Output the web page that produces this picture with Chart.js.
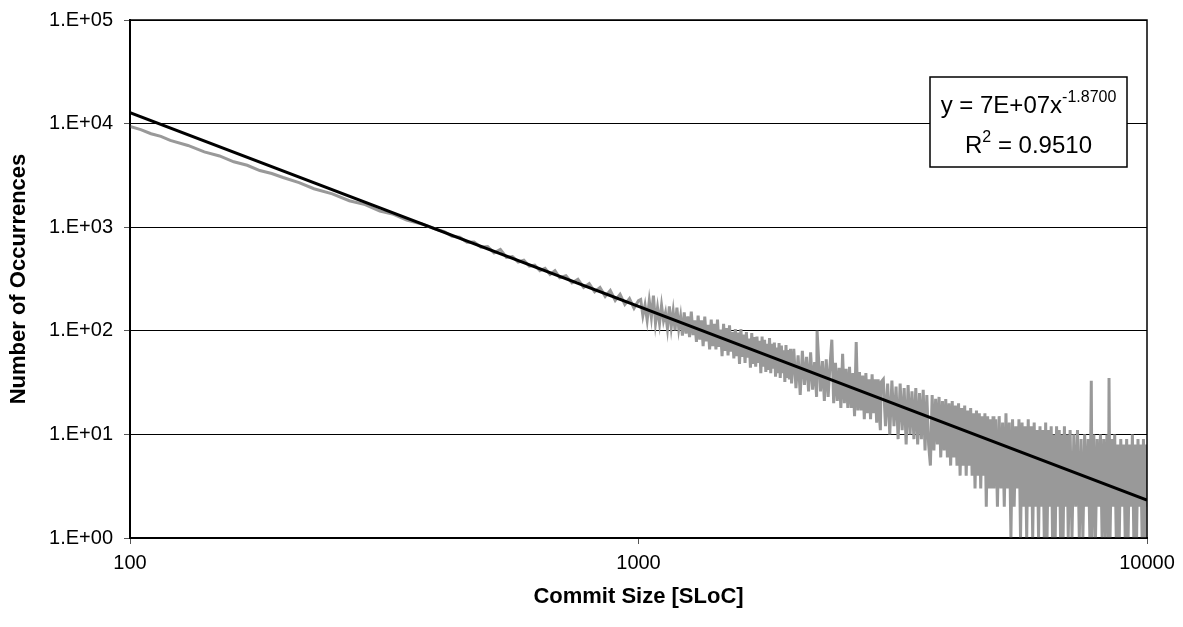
<!DOCTYPE html>
<html>
<head>
<meta charset="utf-8">
<script src="https://cdn.jsdelivr.net/npm/chart.js@4.4.0/dist/chart.umd.min.js"></script>
<style>
  html, body { margin: 0; padding: 0; background: #fff; }
  #chart { display: block; }
</style>
</head>
<body>
<canvas id="chart" width="1183" height="627"></canvas>
<script>
// commit size (SLoC) and how often it occurs
const commitSize = [
  100, 105, 110, 115, 120, 130, 140, 150, 160, 170, 180, 190, 200, 215, 230, 250, 270, 290, 310, 330, 350, 375,
  400, 415, 430, 445, 460, 475, 490, 505, 520, 535, 550, 565, 580, 595, 610, 625, 640, 655, 670, 685,
  700, 720, 740, 760, 780, 800, 820, 840, 860, 880, 900, 920, 940, 960, 980, 1000,
  1010, 1020, 1030, 1040, 1050, 1060, 1070, 1080, 1090, 1100, 1110, 1120, 1130, 1140, 1150, 1160, 1170, 1180, 1190, 1200,
  1210, 1220, 1230, 1240, 1250, 1260, 1270, 1280, 1290, 1300, 1310, 1320, 1330, 1340, 1350, 1360, 1370, 1380, 1390, 1400,
  1410, 1420, 1430, 1440, 1450, 1460, 1470, 1480, 1490, 1500, 1510, 1520, 1530, 1540, 1550, 1560, 1570, 1580, 1590, 1600,
  1610, 1620, 1630, 1640, 1650, 1660, 1670, 1680, 1690, 1700, 1710, 1720, 1730, 1740, 1750, 1760, 1770, 1780, 1790, 1800,
  1810, 1820, 1830, 1840, 1850, 1860, 1870, 1880, 1890, 1900, 1910, 1920, 1930, 1940, 1950, 1960, 1970, 1980, 1990, 2000,
  2020, 2040, 2060, 2080, 2100, 2120, 2140, 2160, 2180, 2200, 2220, 2240, 2245, 2260, 2280, 2300, 2320, 2340, 2360, 2380,
  2400, 2420, 2440, 2460, 2480, 2500, 2520, 2540, 2560, 2580, 2600, 2620, 2640, 2660, 2680, 2700, 2720, 2740, 2760, 2780,
  2800, 2820, 2840, 2860, 2880, 2900, 2920, 2940, 2960, 2980, 2990, 3000,
  3030, 3060, 3090, 3120, 3150, 3180, 3210, 3240, 3270, 3300, 3330, 3360, 3390, 3420, 3450, 3480, 3510, 3540, 3570, 3600,
  3630, 3660, 3690, 3720, 3750, 3780, 3810, 3840, 3870, 3900, 3930, 3960, 3990, 4020, 4050, 4080, 4110, 4140, 4170, 4200,
  4230, 4260, 4290, 4320, 4350, 4380, 4410, 4440, 4470, 4500, 4530, 4560, 4590, 4620, 4650, 4680, 4710, 4740, 4770, 4800,
  4830, 4860, 4890, 4920, 4950, 4980,
  5000, 5040, 5080, 5120, 5160, 5200, 5240, 5280, 5320, 5360, 5400, 5440, 5480, 5520, 5560, 5600, 5640, 5680, 5720, 5760,
  5800, 5840, 5880, 5920, 5960, 6000, 6040, 6080, 6120, 6160, 6200, 6240, 6280, 6320, 6360, 6400, 6440, 6480, 6520, 6560,
  6600, 6640, 6680, 6720, 6760, 6800, 6840, 6880, 6920, 6960, 7000,
  7060, 7120, 7180, 7240, 7300, 7360, 7420, 7480, 7540, 7600, 7660, 7720, 7770, 7800, 7860, 7920, 7980, 8040, 8100, 8160,
  8220, 8280, 8340, 8400, 8420, 8460, 8520, 8580, 8640, 8700, 8760, 8820, 8880, 8940, 9000, 9060, 9120, 9180, 9240, 9300,
  9360, 9420, 9480, 9540, 9600, 9660, 9720, 9780, 9840, 9900, 9960, 10000
];
const occurrences = [
  9400, 8750, 7980, 7520, 6880, 6150, 5330, 4870, 4280, 3960, 3520, 3300, 3020, 2690, 2350, 2100, 1800, 1650, 1430, 1330, 1170, 1075,
  955, 905, 815, 800, 715, 720, 640, 650, 565, 610, 510, 520, 462, 480, 420, 430, 380, 400, 350, 380,
  325, 340, 290, 315, 262, 285, 238, 262, 215, 245, 196, 225, 180, 205, 165, 195,
  200, 140, 178, 127, 195, 135, 218, 118, 167, 118, 176, 125, 150, 105, 172, 109, 154, 101, 167, 105,
  138, 90, 151, 94, 138, 87, 153, 91, 126, 78, 140, 82, 126, 71, 137, 79, 114, 66, 128, 71,
  117, 66, 128, 70, 103, 57, 117, 64, 106, 58, 113, 63, 97, 54, 104, 57, 96, 48, 104, 56,
  92, 49, 97, 55, 84, 44, 95, 48, 87, 45, 88, 49, 80, 39, 88, 45, 82, 40, 75, 42,
  85, 39, 75, 43, 77, 36, 69, 39, 76, 35, 72, 39, 65, 32, 73, 35, 65, 34, 67, 31,
  67, 28, 58, 24, 64, 30, 56, 26, 62, 27, 50, 23, 100, 54, 26, 51, 21, 53, 23, 46,
  82, 20, 49, 21, 44, 18, 60, 20, 43, 18, 45, 18, 39, 15, 78, 17, 40, 17, 37, 14,
  39, 16, 34, 14, 38, 16, 34, 13, 34, 14, 11, 32,
  34, 12, 31, 10, 33, 12, 29, 9, 31, 11, 28, 8, 30, 10, 26, 9, 28, 8, 25, 9,
  27, 7, 24, 8, 5, 24, 7, 22, 8, 23, 6, 21, 7, 22, 6, 20, 5, 21, 6, 19,
  5, 20, 4, 18, 5, 19, 4, 17, 5, 18, 4, 16, 3, 17, 4, 16, 3, 15, 4, 16,
  2, 15, 3, 14, 3, 15,
  3, 14, 2, 15, 3, 13, 2, 16, 3, 13, 1, 14, 2, 12, 3, 14, 1, 13, 2, 12,
  1, 14, 2, 12, 1, 13, 2, 11, 1, 12, 2, 11, 1, 13, 1, 11, 2, 12, 1, 10,
  1, 12, 2, 11, 1, 10, 1, 12, 2, 10, 1,
  11, 1, 10, 2, 11, 1, 9, 1, 10, 2, 9, 1, 33, 1, 10, 1, 9, 2, 10, 1,
  9, 1, 10, 1, 35, 1, 9, 2, 10, 1, 8, 1, 9, 2, 8, 1, 9, 1, 8, 2,
  10, 1, 8, 1, 9, 2, 8, 1, 9, 1, 8, 2
];

// power-law trendline y = 7E+07 x^-1.87, straight on log-log, so its two ends
const trendX = [100, 10000];
const trendY = [12740, 2.32];

const xTicks = [100, 1000, 10000];
const yTicks = [1, 10, 100, 1000, 10000, 100000];
const yTickLabels = ['1.E+00', '1.E+01', '1.E+02', '1.E+03', '1.E+04', '1.E+05'];

const FONT = "'Liberation Sans', Arial, sans-serif";

const frameAndLabel = {
  id: 'frameAndLabel',
  afterDraw(chart) {
    const { ctx, chartArea: a } = chart;
    ctx.save();
    ctx.strokeStyle = '#000';
    ctx.lineWidth = 1.5;
    ctx.strokeRect(a.left, a.top, a.right - a.left, a.bottom - a.top);

    // trendline equation box
    const bx = 930, by = 77, bw = 197, bh = 90;
    ctx.fillStyle = '#fff';
    ctx.fillRect(bx, by, bw, bh);
    ctx.strokeRect(bx, by, bw, bh);
    ctx.fillStyle = '#000';
    ctx.textBaseline = 'alphabetic';
    ctx.textAlign = 'left';
    const big = '24px ' + FONT, small = '16px ' + FONT;
    const line = (parts, baseline) => {
      let w = 0;
      parts.forEach(p => { ctx.font = p[1] ? small : big; w += ctx.measureText(p[0]).width; });
      let x = bx + (bw - w) / 2;
      parts.forEach(p => {
        ctx.font = p[1] ? small : big;
        ctx.fillText(p[0], x, p[1] ? baseline - 11 : baseline);
        x += ctx.measureText(p[0]).width;
      });
    };
    line([['y = 7E+07x', false], ['-1.8700', true]], 113);
    line([['R', false], ['2', true], [' = 0.9510', false]], 153);
    ctx.restore();
  }
};

const ctx = document.getElementById('chart').getContext('2d');
const chart = new Chart(ctx, {
  type: 'line',
  data: {
    datasets: [
      {
        label: 'trend',
        data: trendX.map((x, i) => ({ x: x, y: trendY[i] })),
        borderColor: '#000',
        borderWidth: 3,
        pointRadius: 0,
        order: 0
      },
      {
        label: 'occurrences',
        data: commitSize.map((x, i) => ({ x: x, y: occurrences[i] })),
        borderColor: '#999999',
        borderWidth: 3,
        pointRadius: 0,
        tension: 0,
        order: 1
      }
    ]
  },
  options: {
    responsive: false,
    animation: false,
    layout: { padding: { left: 0, right: 36, top: 20, bottom: 0 } },
    plugins: { legend: { display: false }, tooltip: { enabled: false } },
    scales: {
      x: {
        type: 'logarithmic',
        min: 100,
        max: 10000,
        afterBuildTicks: s => { s.ticks = xTicks.map(v => ({ value: v })); },
        afterFit: s => { s.height = 89; },
        ticks: {
          callback: v => String(v),
          font: { family: FONT, size: 20 },
          color: '#000',
          padding: 7,
          maxRotation: 0,
          autoSkip: false
        },
        grid: { drawOnChartArea: false, tickLength: 6, tickColor: '#555' },
        border: { color: '#000', width: 2 },
        title: {
          display: true,
          text: 'Commit Size [SLoC]',
          font: { family: FONT, size: 22, weight: 'bold' },
          color: '#000',
          padding: { top: 0, bottom: 17 }
        }
      },
      y: {
        type: 'logarithmic',
        min: 1,
        max: 100000,
        afterBuildTicks: s => { s.ticks = yTicks.map(v => ({ value: v })); },
        afterFit: s => { s.width = 130; s.paddingTop = 0; s.paddingBottom = 0; },
        ticks: {
          callback: (v, i) => yTickLabels[i],
          font: { family: FONT, size: 20 },
          color: '#000',
          padding: 11,
          autoSkip: false
        },
        grid: { color: '#000', lineWidth: 1, tickLength: 6, tickColor: '#555' },
        border: { color: '#000', width: 2 },
        title: {
          display: true,
          text: 'Number of Occurrences',
          font: { family: FONT, size: 22, weight: 'bold' },
          color: '#000',
          padding: { top: 6, bottom: 0 }
        }
      }
    }
  },
  plugins: [frameAndLabel]
});
</script>
</body>
</html>
